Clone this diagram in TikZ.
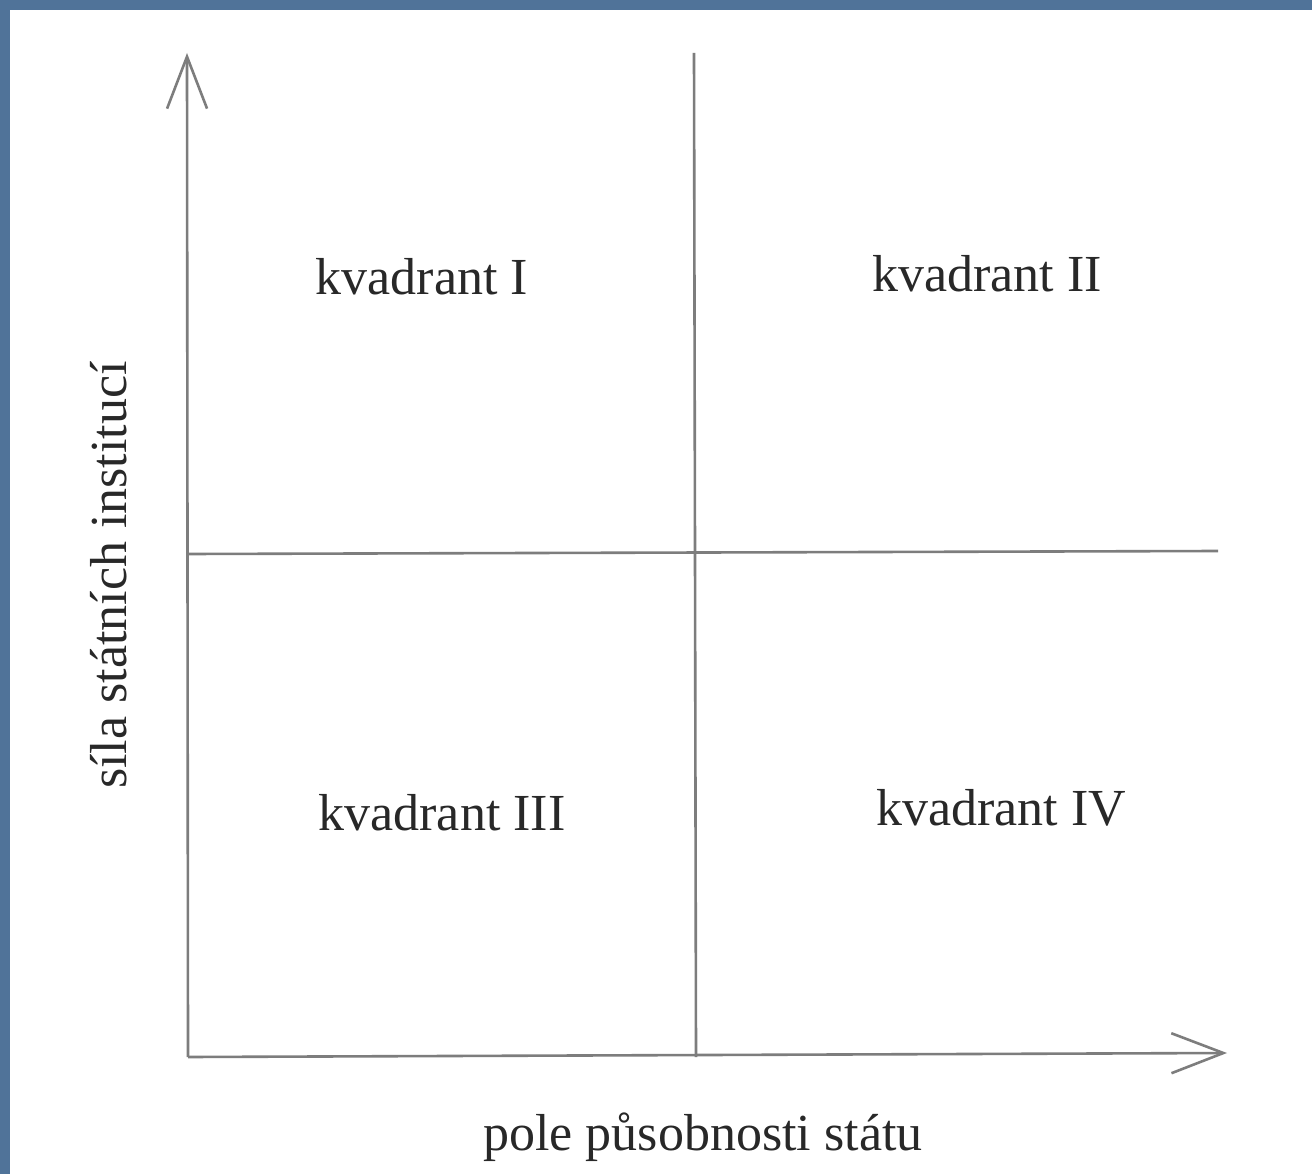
\documentclass[tikz,border=0pt]{standalone}
\usepackage{fontspec}
\setmainfont{Liberation Serif}
\usetikzlibrary{arrows.meta}
\definecolor{bgblue}{RGB}{80,115,153}
\definecolor{linegray}{RGB}{125,125,125}
\definecolor{textgray}{RGB}{40,40,40}
\begin{document}
\begin{tikzpicture}[x=1pt,y=-1pt,
  axisline/.style={draw=linegray,line width=2.6pt},
  barb/.style={-{Straight Barb[length=52pt,width=40pt,line width=2.6pt]}},
  quadlabel/.style={anchor=base,inner sep=0pt,text=textgray,font=\fontsize{52}{62}\selectfont},
  axislabel/.style={anchor=base,inner sep=0pt,text=textgray,font=\fontsize{52}{62}\selectfont}]
\useasboundingbox (0,0) rectangle (1312,1174);
\fill[bgblue] (0,0) rectangle (1312,1174);
\fill[white] (10,10) rectangle (1312,1174);
% coordinates
\coordinate (origin) at (188,1057);
\coordinate (ytip) at (187,53);
\coordinate (xtip) at (1227,1053);
\coordinate (vtop) at (694,53);
\coordinate (vbot) at (696,1057);
\coordinate (hleft) at (188,554);
\coordinate (hright) at (1218,551);
% grid lines
\draw[axisline] (vtop) -- (vbot);
\draw[axisline] (hleft) -- (hright);
% axes
\draw[axisline,barb] (origin) -- (ytip);
\draw[axisline,barb] (origin) -- (xtip);
% labels
\node[quadlabel] (q1) at (422,295) {kvadrant I};
\node[quadlabel] (q2) at (987,292) {kvadrant II};
\node[quadlabel] (q3) at (442,830) {kvadrant III};
\node[quadlabel] (q4) at (1001,825) {kvadrant IV};
\node[axislabel] (xl) at (703,1150) {pole působnosti státu};
\node[axislabel,rotate=90] (yl) at (126,575) {síla státních institucí};
\end{tikzpicture}
\end{document}
